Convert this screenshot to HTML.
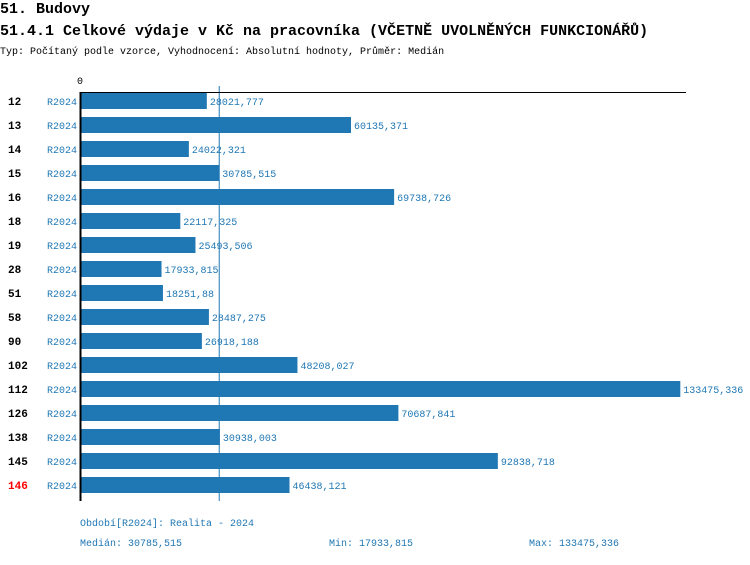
<!DOCTYPE html>
<html><head><meta charset="utf-8"><style>
body{margin:0;background:#fff;width:750px;height:560px;overflow:hidden;font-family:"Liberation Mono",monospace}
svg text{font-family:"Liberation Mono",monospace}
</style></head><body>
<svg width="750" height="560">
<text x="0" y="13" font-size="15" font-weight="bold">51. Budovy</text>
<text x="0" y="35" font-size="15" font-weight="bold">51.4.1 Celkové výdaje v Kč na pracovníka (VČETNĚ UVOLNĚNÝCH FUNKCIONÁŘŮ)</text>
<text x="0" y="54" font-size="10">Typ: Počítaný podle vzorce, Vyhodnocení: Absolutní hodnoty, Průměr: Medián</text>
<g id="plot"></g>
<text x="80" y="526" font-size="10" fill="#1f77b4">Období[R2024]: Realita - 2024</text>
<text x="80" y="546" font-size="10" fill="#1f77b4">Medián: 30785,515</text>
<text x="329" y="546" font-size="10" fill="#1f77b4">Min: 17933,815</text>
<text x="529" y="546" font-size="10" fill="#1f77b4">Max: 133475,336</text>
</svg>
<script>
const categories=["12","13","14","15","16","18","19","28","51","58","90","102","112","126","138","145","146"];
const values=[28021.777,60135.371,24022.321,30785.515,69738.726,22117.325,25493.506,17933.815,18251.88,28487.275,26918.188,48208.027,133475.336,70687.841,30938.003,92838.718,46438.121];
const valueLabels=["28021,777","60135,371","24022,321","30785,515","69738,726","22117,325","25493,506","17933,815","18251,88","28487,275","26918,188","48208,027","133475,336","70687,841","30938,003","92838,718","46438,121"];
const periods=["R2024"];
const medianValue=30785.515;
const highlighted="146";
const NS="http://www.w3.org/2000/svg";
const g=document.getElementById('plot');
const x0=81,scale=0.00449,top0=93,step=24,bh=16;
const xs=v=>x0+v*scale;
const ys=i=>top0+i*step;
function el(t,a){const e=document.createElementNS(NS,t);for(const k in a)e.setAttribute(k,a[k]);g.appendChild(e);return e;}
const bottom=ys(categories.length);
let m=el('line',{x1:xs(medianValue),x2:xs(medianValue),y1:86,y2:bottom,stroke:'#1f77b4','stroke-width':1});


categories.forEach((c,i)=>{
  const y=ys(i);
  let r=el('rect',{x:x0,y:y,width:values[i]*scale,height:bh,fill:'#1f77b4'});
  
  
  let t=el('text',{x:xs(values[i])+3,y:y+12,'font-size':10,fill:'#1f77b4'});t.textContent=valueLabels[i];
  
  
  let p=el('text',{x:47,y:y+12,'font-size':10,fill:'#1f77b4'});p.textContent=periods[0];
  
  
  let cl=el('text',{x:8,y:y+12,'font-size':11,'font-weight':'bold',fill:c===highlighted?'#ff0000':'#000'});cl.textContent=c;
  
  
});
let ax=el('line',{x1:80,x2:686,y1:92.5,y2:92.5,stroke:'#000','stroke-width':1});


let ay=el('line',{x1:80.5,x2:80.5,y1:92,y2:bottom,stroke:'#000','stroke-width':2});


let z=el('text',{x:77,y:84,'font-size':10});z.textContent='0';


</script>
</body></html>
